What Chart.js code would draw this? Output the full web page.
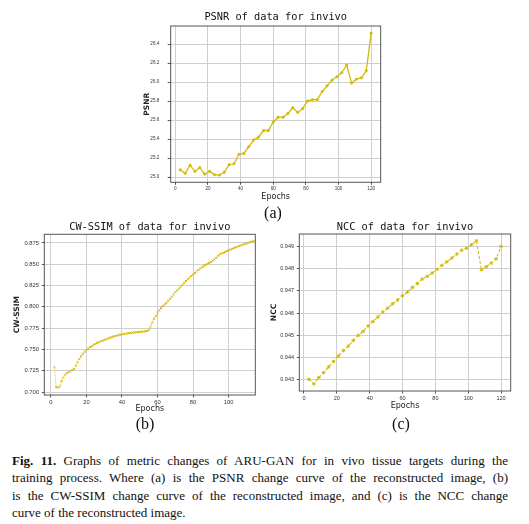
<!DOCTYPE html>
<html>
<head>
<meta charset="utf-8">
<script src="https://cdn.jsdelivr.net/npm/chart.js@4.4.0/dist/chart.umd.min.js"></script>
<style>
  body { margin: 0; background: #fff; width: 529px; height: 524px; position: relative; overflow: hidden; }
  canvas { position: absolute; }
  .sub { position: absolute; font-family: "Liberation Serif", serif; font-size: 16px; color: #111; transform: translate(-50%, -50%); }
  #caption { position: absolute; left: 12px; top: 452px; width: 496px; font-family: "Liberation Serif", serif; font-size: 13px; line-height: 17.3px; color: #111; }
  #caption div { text-align: justify; text-align-last: justify; white-space: nowrap; }
  #caption div.last { text-align-last: left; }
</style>
</head>
<body>
<canvas id="chart-a" width="250" height="205" style="left:140px; top:0px;"></canvas>
<canvas id="chart-b" width="265" height="205" style="left:0px; top:212px;"></canvas>
<canvas id="chart-c" width="264" height="205" style="left:265px; top:212px;"></canvas>
<div class="sub" style="left:273px; top:213px;">(a)</div>
<div class="sub" style="left:145px; top:424px;">(b)</div>
<div class="sub" style="left:401px; top:424px;">(c)</div>
<div id="caption">
  <div><b>Fig. 11.</b> Graphs of metric changes of ARU-GAN for in vivo tissue targets during the</div>
  <div>training process. Where (a) is the PSNR change curve of the reconstructed image, (b)</div>
  <div>is the CW-SSIM change curve of the reconstructed image, and (c) is the NCC change</div>
  <div class="last">curve of the reconstructed image.</div>
</div>
<script>
// PSNR, every 3 epochs
var psnrEpochs = [3, 6, 9, 12, 15, 18, 21, 24, 27, 30, 33, 36, 39, 42, 45, 48, 51, 54, 57, 60,
  63, 66, 69, 72, 75, 78, 81, 84, 87, 90, 93, 96, 99, 102, 105, 108, 111, 114, 117, 120];
var psnrValues = [25.077, 25.04, 25.125, 25.06, 25.1, 25.03, 25.06, 25.025, 25.02, 25.05,
  25.13, 25.14, 25.24, 25.25, 25.32, 25.39, 25.42, 25.49, 25.49, 25.58,
  25.63, 25.63, 25.67, 25.73, 25.68, 25.72, 25.8, 25.815, 25.815, 25.9,
  25.96, 26.02, 26.055, 26.1, 26.18, 25.99, 26.03, 26.045, 26.12, 26.515];
var psnrTicks = [25.0, 25.2, 25.4, 25.6, 25.8, 26.0, 26.2, 26.4];

// CW-SSIM, every epoch
var ssimEpochs = [2, 3, 4, 5, 6, 7, 8, 9, 10, 11, 12, 13, 14, 15, 16, 17, 18, 19, 20, 21,
  22, 23, 24, 25, 26, 27, 28, 29, 30, 31, 32, 33, 34, 35, 36, 37, 38, 39, 40, 41,
  42, 43, 44, 45, 46, 47, 48, 49, 50, 51, 52, 53, 54, 55, 56, 57, 58, 59, 60, 61,
  62, 63, 64, 65, 66, 67, 68, 69, 70, 71, 72, 73, 74, 75, 76, 77, 78, 79, 80, 81,
  82, 83, 84, 85, 86, 87, 88, 89, 90, 91, 92, 93, 94, 95, 96, 97, 98, 99, 100, 101,
  102, 103, 104, 105, 106, 107, 108, 109, 110, 111, 112, 113, 114];
var ssimValues = [0.729, 0.7058, 0.7052, 0.7065, 0.713, 0.717, 0.7205, 0.7222, 0.7232, 0.7243,
  0.7256, 0.7272, 0.731, 0.7348, 0.7385, 0.742, 0.745, 0.7473, 0.7493, 0.751,
  0.7527, 0.754, 0.7555, 0.7565, 0.7576, 0.7584, 0.7595, 0.7602, 0.761, 0.7618,
  0.7627, 0.7636, 0.7643, 0.765, 0.7656, 0.7662, 0.7668, 0.7672, 0.7677, 0.7681,
  0.7685, 0.7688, 0.7691, 0.7694, 0.7697, 0.77, 0.7702, 0.7704, 0.7706, 0.7708,
  0.771, 0.7712, 0.7715, 0.7725, 0.7768, 0.7815, 0.786, 0.7895, 0.793, 0.7958,
  0.7985, 0.8012, 0.803, 0.8045, 0.807, 0.8095, 0.812, 0.8145, 0.817, 0.8192,
  0.8215, 0.8238, 0.826, 0.8282, 0.8304, 0.8325, 0.8343, 0.8362, 0.8381, 0.8398,
  0.8416, 0.8435, 0.845, 0.8464, 0.8478, 0.849, 0.8504, 0.8516, 0.8528, 0.8542,
  0.8557, 0.8575, 0.86, 0.8618, 0.8626, 0.8634, 0.8645, 0.8655, 0.8665, 0.8673,
  0.8682, 0.869, 0.8699, 0.8707, 0.8714, 0.8722, 0.873, 0.8738, 0.8745, 0.8752,
  0.8759, 0.8766, 0.8772];
var ssimTicks = [0.7, 0.725, 0.75, 0.775, 0.8, 0.825, 0.85, 0.875];

// NCC, every 3 epochs
var nccEpochs = psnrEpochs;
var nccValues = [0.943, 0.94279, 0.94308, 0.9433, 0.94356, 0.94381, 0.94406, 0.9443, 0.94451, 0.94476,
  0.94499, 0.94517, 0.94541, 0.94562, 0.94582, 0.94605, 0.94623, 0.94642, 0.94659, 0.94679,
  0.94695, 0.94716, 0.94734, 0.94754, 0.94766, 0.94781, 0.94798, 0.94816, 0.94832, 0.94849,
  0.94867, 0.94885, 0.94894, 0.94909, 0.94927, 0.94796, 0.9481, 0.94826, 0.94846, 0.94902];
var nccTicks = [0.943, 0.944, 0.945, 0.946, 0.947, 0.948, 0.949];

var epochTicks = [0, 20, 40, 60, 80, 100, 120];

var lineColor = "#d4ba0c";

// frame box and title centred over the plot area
var framePlugin = {
  id: "frame",
  afterDraw: function (chart, args, opts) {
    var a = chart.chartArea;
    var ctx = chart.ctx;
    ctx.save();
    ctx.strokeStyle = "#555";
    ctx.lineWidth = 1;
    ctx.strokeRect(a.left, a.top, a.right - a.left, a.bottom - a.top);
    ctx.fillStyle = "#111";
    ctx.font = "10.3px 'DejaVu Sans Mono'";
    ctx.textAlign = "center";
    ctx.textBaseline = "middle";
    ctx.fillText(opts.text, (a.left + a.right) / 2, opts.y);
    ctx.restore();
  },
};

// keep only the given tick values that fall inside the axis range
function fixedTicks(values) {
  return function (scale) {
    scale.ticks = values
      .filter(function (v) { return v >= scale.min && v <= scale.max; })
      .map(function (v) { return { value: v }; });
  };
}

function makeChart(id, s) {
  var points = s.x.map(function (x, i) {
    return { x: x, y: s.y[i] };
  });
  new Chart(document.getElementById(id), {
    type: "line",
    data: {
      datasets: [
        {
          data: points,
          borderColor: lineColor,
          backgroundColor: lineColor,
          borderWidth: s.lineWidth,
          borderDash: s.dash,
          pointStyle: s.pointStyle,
          pointRadius: s.pointRadius,
          pointBorderWidth: 1,
          pointBorderColor: lineColor,
          tension: 0,
        },
      ],
    },
    options: {
      responsive: false,
      animation: false,
      devicePixelRatio: 1,
      layout: { padding: s.padding },
      plugins: {
        legend: { display: false },
        tooltip: { enabled: false },
        frame: { text: s.title, y: s.titleY },
      },
      scales: {
        x: {
          type: "linear",
          min: s.xMin,
          max: s.xMax,
          afterBuildTicks: fixedTicks(epochTicks),
          afterFit: function (scale) { scale.height = s.xHeight; },
          grid: { color: "#cfcfcf", lineWidth: 1, tickColor: "#555", tickLength: 2.5 },
          border: { display: false },
          ticks: {
            padding: s.xTickPad,
            maxRotation: 0,
            color: "#333",
            font: { family: "Liberation Sans", size: s.tickSize },
          },
          title: {
            display: true,
            text: "Epochs",
            color: "#222",
            padding: 0,
            font: { family: "DejaVu Sans", size: 8 },
          },
        },
        y: {
          min: s.yMin,
          max: s.yMax,
          afterBuildTicks: fixedTicks(s.ticks),
          afterFit: function (scale) { scale.width = s.yWidth; },
          grid: { color: "#cfcfcf", lineWidth: 1, tickColor: "#555", tickLength: s.yTickLen },
          border: { display: false },
          ticks: {
            padding: s.yTickPad,
            color: "#333",
            font: { family: "Liberation Sans", size: s.tickSize },
            callback: function (v) { return v.toFixed(s.decimals); },
          },
          title: {
            display: true,
            text: s.yLabel,
            color: "#222",
            padding: { top: s.yTitlePad, bottom: 0 },
            font: { family: "DejaVu Sans", size: 7.5, weight: "bold" },
          },
        },
      },
    },
    plugins: [framePlugin],
  });
}

makeChart("chart-a", {
  x: psnrEpochs, y: psnrValues, ticks: psnrTicks, decimals: 1,
  title: "PSNR of data for invivo", titleY: 17, yLabel: "PSNR",
  xMin: -2.85, xMax: 125.85, yMin: 24.945, yMax: 26.59,
  padding: { left: 0, right: 9.3, top: 26, bottom: 3.5 },
  xHeight: 19.2, yWidth: 30.7, yTitlePad: 2.5, yTickLen: 3, yTickPad: 8.4, xTickPad: 1.2,
  tickSize: 4.6, lineWidth: 1.3, dash: [], pointStyle: "circle", pointRadius: 1.1,
});

makeChart("chart-b", {
  x: ssimEpochs, y: ssimValues, ticks: ssimTicks, decimals: 3,
  title: "CW-SSIM of data for invivo", titleY: 15, yLabel: "CW-SSIM",
  xMin: -3.7, xMax: 115, yMin: 0.6965, yMax: 0.8852,
  padding: { left: 0, right: 9.7, top: 22.3, bottom: 3.5 },
  xHeight: 18.5, yWidth: 44.3, yTitlePad: 13, yTickLen: 2.5, yTickPad: 2.8, xTickPad: 1,
  tickSize: 5.8, lineWidth: 1, dash: [1, 1.5], pointStyle: "crossRot", pointRadius: 1.4,
});

makeChart("chart-c", {
  x: nccEpochs, y: nccValues, ticks: nccTicks, decimals: 3,
  title: "NCC of data for invivo", titleY: 15, yLabel: "NCC",
  xMin: -2.85, xMax: 125.85, yMin: 0.94247, yMax: 0.94958,
  padding: { left: 0, right: 18.3, top: 22, bottom: 6.5 },
  xHeight: 19.5, yWidth: 34.3, yTitlePad: 4.3, yTickLen: 2.5, yTickPad: 2.8, xTickPad: 2,
  tickSize: 5.5, lineWidth: 1.1, dash: [3, 2], pointStyle: "star", pointRadius: 1.8,
});
</script>
</body>
</html>
